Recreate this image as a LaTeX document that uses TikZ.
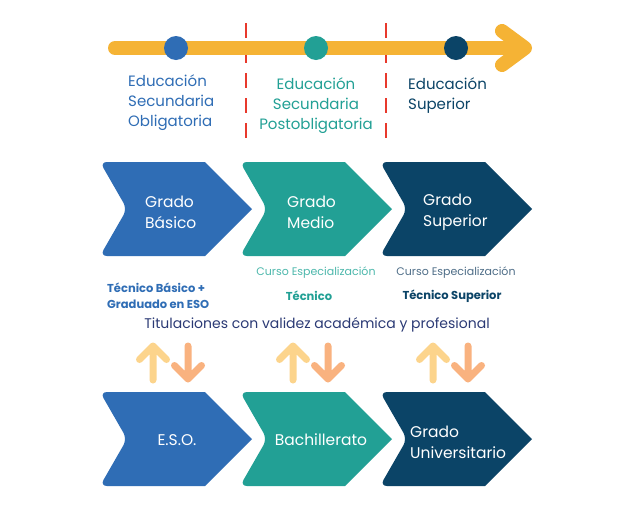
\documentclass[tikz,border=0pt]{standalone}
\usepackage{fontspec}
\setmainfont{Poppins}
\definecolor{cblue}{HTML}{2F6DB5}
\definecolor{cteal}{HTML}{22A095}
\definecolor{cnavy}{HTML}{0B4467}
\definecolor{cyellow}{HTML}{F5B335}
\definecolor{clightyellow}{HTML}{FCD48C}
\definecolor{csalmon}{HTML}{F9B27F}
\definecolor{cred}{HTML}{E8392C}
\definecolor{ctitle}{HTML}{2B3A75}
\definecolor{cteallight}{HTML}{4DB8AC}
\definecolor{cnavylight}{HTML}{4F6E88}
\tikzset{
  stagetext/.style={font=\fontsize{15}{20}\selectfont, inner sep=0pt},
  chevtext/.style={font=\fontsize{15.5}{21}\selectfont, text=white, inner sep=0pt, align=left},
  boldtext/.style={font=\bfseries\fontsize{11.5}{16}\selectfont, inner sep=0pt},
  smalltext/.style={font=\fontsize{11}{14}\selectfont, inner sep=0pt},
  iconarrow/.style={line width=7pt, line cap=round, line join=round},
  dash line/.style={cred, line width=2.2pt, dash pattern=on 15pt off 10pt},
}
\newcommand{\chevron}[3]{% #1 x, #2 y, #3 colour
  \fill[#3] (#1+152,#2+47) -- (#1+105,#2+94)
    [rounded corners=7pt] -- (#1,#2+94) -- (#1+27,#2+47) -- (#1,#2) [sharp corners] -- (#1+105,#2) -- cycle;
}
\newcommand{\updown}[1]{% #1 x of up arrow
  \draw[iconarrow, clightyellow] (#1,380) -- (#1,346) (#1-13.5,359.5) -- (#1,346) -- (#1+13.5,359.5);
  \draw[iconarrow, csalmon] (#1+35,346) -- (#1+35,379) (#1+21.5,365.5) -- (#1+35,379) -- (#1+48.5,365.5);
}
\begin{document}
\begin{tikzpicture}[x=1pt,y=-1pt]
\useasboundingbox[fill=white] (0,0) rectangle (640,512);
% timeline
\draw[dash line] (246,23) -- (246,138);
\draw[dash line] (386,23) -- (386,138);
\draw[cyellow, line width=14pt, line cap=round] (115,48) -- (522,48);
\draw[cyellow, line width=14pt, line cap=round, line join=round] (502,31) -- (525,48) -- (502,65);
\fill[cblue] (176,48) circle (12);
\fill[cteal] (316,48) circle (12);
\fill[cnavy] (456,48) circle (12);
\node[stagetext, text=cblue, align=left, anchor=west] (e1) at (128,103) {Educación\\Secundaria\\Obligatoria};
\node[stagetext, text=cteal, align=center] (e2) at (316,106) {Educación\\Secundaria\\Postobligatoria};
\node[stagetext, text=cnavy, align=left, anchor=west] (e3) at (408,96) {Educación\\Superior};
% first row of chevrons
\chevron{100}{162}{cblue}
\chevron{240}{162}{cteal}
\chevron{380}{162}{cnavy}
\node[chevtext, anchor=west] (gb) at (145,212) {Grado\\Básico};
\node[chevtext, anchor=west] (gm) at (287,212) {Grado\\Medio};
\node[chevtext, anchor=west] (gs) at (423,212) {Grado\\Superior};
% titles
\node[boldtext, text=cblue, align=left, anchor=west] (t1) at (107,296) {Técnico Básico +\\Graduado en ESO};
\node[smalltext, text=cteallight] (c2) at (316,273) {Curso Especialización};
\node[boldtext, text=cteal] (t2) at (309,296) {Técnico};
\node[smalltext, text=cnavylight] (c3) at (456,273) {Curso Especialización};
\node[boldtext, text=cnavy] (t3) at (452,296) {Técnico Superior};
\node[font=\fontsize{14}{18}\selectfont, text=ctitle, inner sep=0pt] (tit) at (317,325) {Titulaciones con validez académica y profesional};
% arrows
\updown{153}
\updown{293}
\updown{433}
% second row of chevrons
\chevron{100}{392}{cblue}
\chevron{240}{392}{cteal}
\chevron{380}{392}{cnavy}
\node[chevtext, anchor=center] (eso) at (177,440) {E.S.O.};
\node[chevtext, anchor=center] (bach) at (321,440) {Bachillerato};
\node[chevtext, anchor=west] (gu) at (410,442) {Grado\\Universitario};
\end{tikzpicture}
\end{document}
